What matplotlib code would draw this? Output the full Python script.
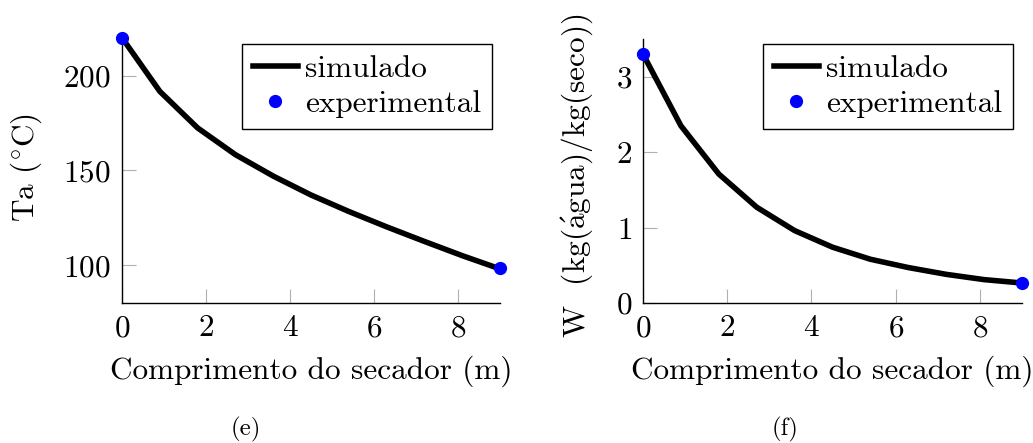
import matplotlib
matplotlib.use("Agg")
import matplotlib.pyplot as plt

plt.rcParams["font.family"] = ["cmr10", "DejaVu Serif"]
plt.rcParams["mathtext.fontset"] = "cm"
plt.rcParams["axes.formatter.use_mathtext"] = True

# Position along the dryer (m)
comprimento = [0.0, 0.9, 1.8, 2.7, 3.6, 4.5, 5.4, 6.3, 7.2, 8.1, 9.0]

# Air temperature (°C): simulated profile and measured inlet/outlet
ta_simulado = [220.0, 191.7, 172.4, 158.3, 147.0, 137.0, 128.3, 120.2, 112.5, 105.0, 98.0]
ta_exp_x = [0.0, 9.0]
ta_exp = [220.0, 98.7]

# Moisture content (kg water / kg dry solid)
w_simulado = [3.30, 2.35, 1.71, 1.27, 0.96, 0.74, 0.58, 0.47, 0.38, 0.31, 0.265]
w_exp_x = [0.0, 9.0]
w_exp = [3.30, 0.27]

xticks = [0, 2, 4, 6, 8]
ta_yticks = [100, 150, 200]
w_yticks = [0, 1, 2, 3]

FS = 22.5
W, H = 1033, 443
fig = plt.figure(figsize=(W / 100, H / 100), dpi=100)


def px_axes(x0, y_top, x1, y_bot):
    return fig.add_axes([x0 / W, 1 - y_bot / H, (x1 - x0) / W, (y_bot - y_top) / H])


def style(ax):
    for side in ("top", "right"):
        ax.spines[side].set_visible(False)
    for side in ("left", "bottom"):
        ax.spines[side].set_linewidth(1.0)
        ax.spines[side].set_color("black")
    ax.tick_params(direction="in", length=10, width=0.8, color="#b0b0b0",
                   labelsize=FS, pad=8)
    ax.set_xlim(0, 9)
    ax.set_xticks(xticks)
    ax.set_xlabel("Comprimento do secador (m)", fontsize=FS, labelpad=10)


def legend(ax, anchor):
    leg = ax.legend(loc="upper right", bbox_to_anchor=anchor, borderaxespad=0,
                    fontsize=FS, frameon=True, fancybox=False, framealpha=1,
                    edgecolor="black", handlelength=1.45, handletextpad=0.22,
                    labelspacing=0.22, borderpad=0.35, numpoints=1)
    leg.get_frame().set_linewidth(1.0)


ax1 = px_axes(122, 33, 500, 303)
style(ax1)
ax1.plot(comprimento, ta_simulado, color="black", lw=4, label="simulado",
         solid_joinstyle="miter")
ax1.plot(ta_exp_x, ta_exp, "o", color="#0000ff", ms=8.5, label="experimental",
         clip_on=False, zorder=5)
ax1.set_ylim(80, 222.5)
ax1.set_yticks(ta_yticks)
ax1.set_ylabel("Ta ($^{\\circ}$C)", fontsize=FS)
ax1.yaxis.set_label_coords(-0.207, 0.5)
legend(ax1, (0.979, 0.959))

ax2 = px_axes(643, 39, 1022, 303)
style(ax2)
ax2.plot(comprimento, w_simulado, color="black", lw=4, label="simulado",
         solid_joinstyle="miter")
ax2.plot(w_exp_x, w_exp, "o", color="#0000ff", ms=8.5, label="experimental",
         clip_on=False, zorder=5)
ax2.set_ylim(0, 3.5)
ax2.set_yticks(w_yticks)
ax2.set_ylabel("W  (kg($\\acute{\\mathrm{a}}$gua)/kg(seco))", fontsize=FS)
ax2.yaxis.set_label_coords(-0.127, 0.48)
legend(ax2, (0.976, 0.981))

fig.text(246 / W, 1 - 429 / H, "(e)", fontsize=18, ha="center", va="center")
fig.text(785 / W, 1 - 429 / H, "(f)", fontsize=18, ha="center", va="center")

fig.savefig("out.png", dpi=100)
